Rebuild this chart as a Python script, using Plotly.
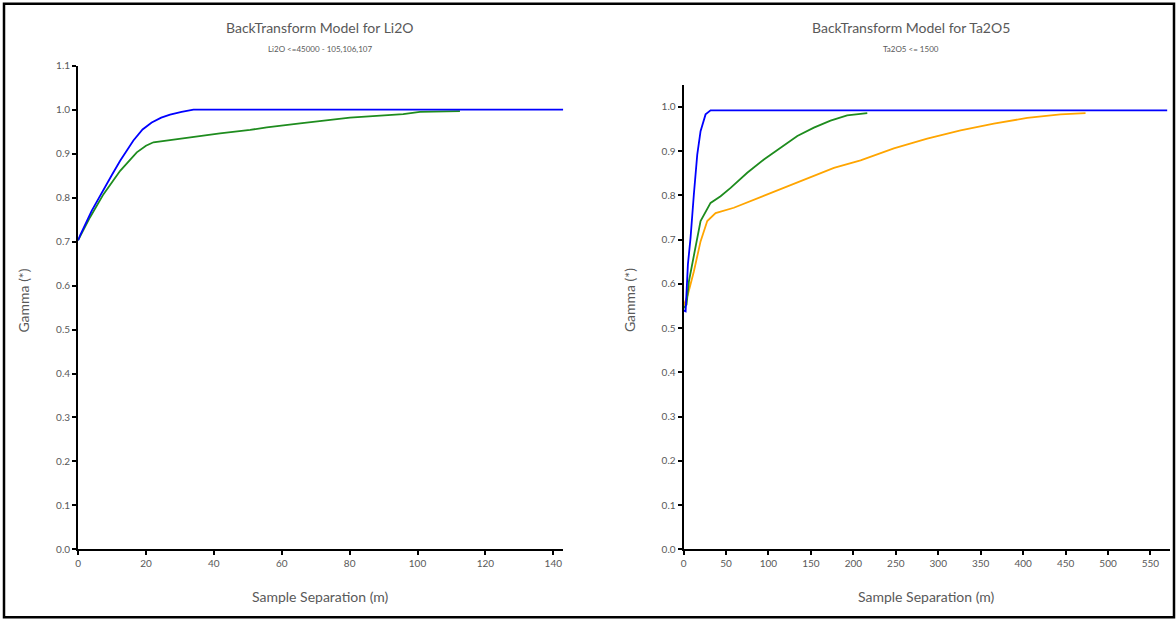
import plotly.graph_objects as go

# ---- Data ----
li_blue_x = [0, 0.6, 4, 7.5, 10, 12.4, 14.5, 16.3, 19, 21.7, 24.5, 27.1, 30.5, 34, 60, 100, 142.9]
li_blue_y = [0.703, 0.714, 0.77, 0.816, 0.852, 0.884, 0.908, 0.93, 0.955, 0.971, 0.982, 0.989, 0.995, 1.0, 1.0, 1.0, 1.0]

li_green_x = [0, 3.5, 7.5, 12.4, 17.3, 20, 22.2, 26, 30, 41.8, 50.7, 55.6, 65.4, 80.1, 95.8, 100.7, 112.5]
li_green_y = [0.703, 0.755, 0.808, 0.861, 0.903, 0.918, 0.926, 0.93, 0.933, 0.946, 0.954, 0.96, 0.969, 0.982, 0.99, 0.995, 0.997]

ta_blue_x = [0, 2.4, 5.1, 8.2, 12.1, 16.1, 20, 25.9, 31.8, 100, 300, 569.7]
ta_blue_y = [0.54, 0.538, 0.644, 0.704, 0.802, 0.892, 0.945, 0.983, 0.992, 0.992, 0.992, 0.992]

ta_green_x = [0, 3.5, 6.3, 12.2, 20, 31.8, 43.6, 55.4, 75, 94.6, 114.3, 134, 153.5, 173.1, 192.7, 216.4]
ta_green_y = [0.545, 0.553, 0.606, 0.666, 0.742, 0.783, 0.798, 0.817, 0.851, 0.881, 0.907, 0.934, 0.953, 0.969, 0.981, 0.986]

ta_orange_x = [0, 5.1, 12.1, 20, 27.9, 37.7, 59.2, 98.5, 137.8, 177.1, 208.5, 247.7, 287, 326.3, 365.5, 404.8, 444, 473.5]
ta_orange_y = [0.55, 0.576, 0.628, 0.696, 0.742, 0.76, 0.772, 0.802, 0.832, 0.862, 0.879, 0.906, 0.928, 0.947, 0.962, 0.975, 0.983, 0.986]

left_xticks = [0, 20, 40, 60, 80, 100, 120, 140]
right_xticks = [0, 50, 100, 150, 200, 250, 300, 350, 400, 450, 500, 550]
left_yticks = [round(i * 0.1, 1) for i in range(12)]
right_yticks = [round(i * 0.1, 1) for i in range(11)]

W, H = 1176, 619
BLUE, GREEN, ORANGE = "#0000FF", "#1E8C1E", "#FFA500"
FONT = "Lato, 'Open Sans', sans-serif"
GREY = "#595959"

fig = go.Figure()
fig.add_trace(go.Scatter(x=li_green_x, y=li_green_y, mode="lines", line=dict(color=GREEN, width=1.8), xaxis="x", yaxis="y"))
fig.add_trace(go.Scatter(x=li_blue_x, y=li_blue_y, mode="lines", line=dict(color=BLUE, width=1.8), xaxis="x", yaxis="y"))
fig.add_trace(go.Scatter(x=ta_orange_x, y=ta_orange_y, mode="lines", line=dict(color=ORANGE, width=1.8), xaxis="x2", yaxis="y2"))
fig.add_trace(go.Scatter(x=ta_green_x, y=ta_green_y, mode="lines", line=dict(color=GREEN, width=1.8), xaxis="x2", yaxis="y2"))
fig.add_trace(go.Scatter(x=ta_blue_x, y=ta_blue_y, mode="lines", line=dict(color=BLUE, width=1.8), xaxis="x2", yaxis="y2"))

# compensation for the observed rendering offset/scale
def px(xp):
    return ((xp - 3.0) / 0.9966) / W

def py(yp):
    return (H - (yp - 6.2) / 0.9814) / H

axis_common = dict(showgrid=False, zeroline=False, showline=True, linecolor="black", linewidth=2,
                   ticks="outside", ticklen=4, tickwidth=1.5, tickcolor="black",
                   tickfont=dict(family=FONT, size=10, color=GREY), fixedrange=True)

fig.update_layout(
    width=W, height=H,
    margin=dict(l=0, r=0, t=0, b=0),
    paper_bgcolor="white", plot_bgcolor="white",
    showlegend=False,
    xaxis=dict(domain=[px(78), px(563)], range=[0, 143], tickvals=left_xticks, anchor="y", **axis_common),
    yaxis=dict(domain=[py(549), py(65)], range=[0, 1.1], tickvals=left_yticks, tickformat=".1f", anchor="x", **axis_common),
    xaxis2=dict(domain=[px(683), px(1169)], range=[0, 573], tickvals=right_xticks, anchor="y2", **axis_common),
    yaxis2=dict(domain=[py(549), py(84)], range=[0, 1.05], tickvals=right_yticks, tickformat=".1f", anchor="x2", **axis_common),
)

ann = []
def text(x, y, s, size, angle=0):
    ann.append(dict(x=px(x), y=py(y), xref="paper", yref="paper", text=s, showarrow=False,
                    font=dict(family=FONT, size=size, color=GREY), textangle=angle,
                    xanchor="center", yanchor="middle"))

text(320, 27, "BackTransform Model for Li2O", 14)
text(320, 48, "Li2O &lt;=45000 - 105,106,107", 8)
text(910, 27, "BackTransform Model for Ta2O5", 14)
text(910, 48, "Ta2O5 &lt;= 1500", 8)
text(320, 596, "Sample Separation (m)", 14)
text(926, 596, "Sample Separation (m)", 14)
text(24, 300, "Gamma (*)", 14, -90)
text(629, 300, "Gamma (*)", 14, -90)
fig.update_layout(annotations=ann)

fig.add_shape(type="rect", xref="paper", yref="paper", x0=px(4), x1=px(1173), y0=py(617), y1=py(3),
              line=dict(color="black", width=2.5), fillcolor="rgba(0,0,0,0)")

fig.write_html("out.html")
